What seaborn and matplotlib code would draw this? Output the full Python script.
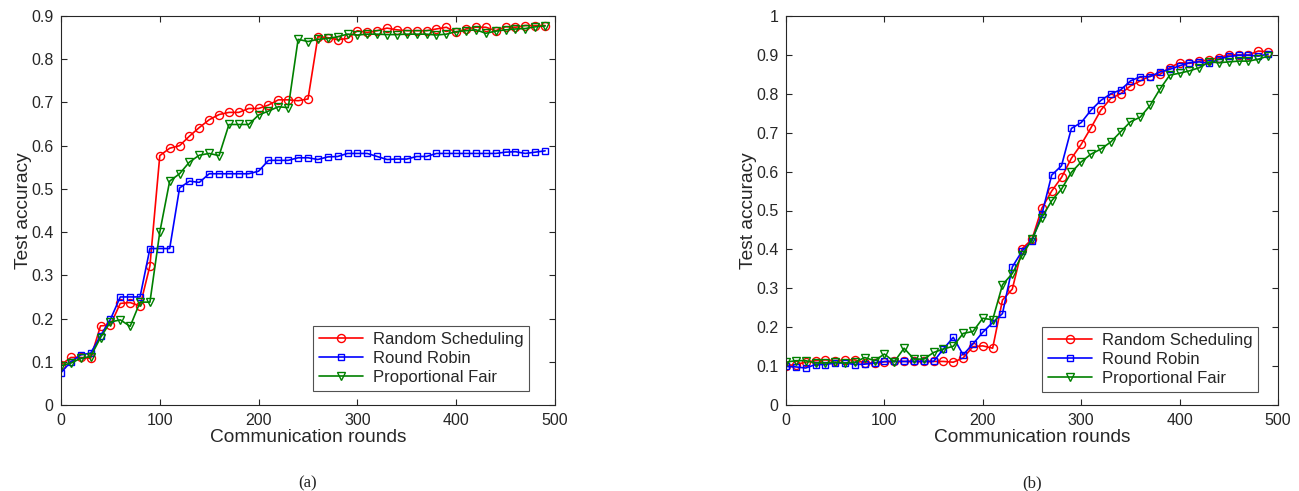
import numpy as np
import pandas as pd
import matplotlib
matplotlib.use("Agg")
import matplotlib.pyplot as plt
import seaborn as sns
from matplotlib.ticker import FuncFormatter

rounds = list(range(0, 500, 10))

# Panel (a)
a_random = [0.093, 0.11, 0.11, 0.108, 0.183, 0.185, 0.235, 0.237, 0.229, 0.322,
            0.577, 0.594, 0.60, 0.622, 0.642, 0.66, 0.672, 0.677, 0.677, 0.686,
            0.686, 0.694, 0.706, 0.706, 0.704, 0.708, 0.852, 0.85, 0.845, 0.848,
            0.866, 0.862, 0.866, 0.872, 0.868, 0.866, 0.866, 0.866, 0.87, 0.874,
            0.862, 0.87, 0.874, 0.874, 0.866, 0.875, 0.874, 0.878, 0.878, 0.878]
a_robin = [0.075, 0.10, 0.116, 0.12, 0.16, 0.198, 0.25, 0.25, 0.25, 0.362,
           0.362, 0.362, 0.502, 0.518, 0.515, 0.535, 0.535, 0.535, 0.535, 0.535,
           0.541, 0.566, 0.566, 0.566, 0.572, 0.572, 0.568, 0.574, 0.575, 0.582,
           0.582, 0.582, 0.575, 0.568, 0.569, 0.569, 0.575, 0.575, 0.582, 0.582,
           0.582, 0.582, 0.582, 0.582, 0.582, 0.585, 0.586, 0.582, 0.585, 0.588]
a_fair = [0.091, 0.097, 0.108, 0.112, 0.156, 0.192, 0.197, 0.182, 0.238, 0.238,
          0.40, 0.518, 0.535, 0.562, 0.578, 0.582, 0.577, 0.649, 0.649, 0.649,
          0.671, 0.68, 0.69, 0.688, 0.846, 0.841, 0.846, 0.848, 0.852, 0.858,
          0.856, 0.858, 0.858, 0.857, 0.857, 0.858, 0.858, 0.858, 0.856, 0.858,
          0.864, 0.866, 0.868, 0.86, 0.865, 0.868, 0.87, 0.871, 0.875, 0.877]

# Panel (b)
b_random = [0.101, 0.104, 0.11, 0.114, 0.116, 0.114, 0.116, 0.116, 0.108, 0.108,
            0.111, 0.112, 0.112, 0.112, 0.112, 0.112, 0.112, 0.11, 0.121, 0.15,
            0.152, 0.146, 0.27, 0.298, 0.402, 0.426, 0.506, 0.55, 0.585, 0.634,
            0.67, 0.713, 0.758, 0.788, 0.80, 0.82, 0.833, 0.846, 0.85, 0.867,
            0.88, 0.878, 0.884, 0.887, 0.893, 0.90, 0.90, 0.90, 0.91, 0.908]
b_robin = [0.099, 0.098, 0.095, 0.104, 0.104, 0.108, 0.108, 0.104, 0.105, 0.108,
           0.112, 0.112, 0.112, 0.112, 0.112, 0.112, 0.144, 0.174, 0.129, 0.157,
           0.187, 0.212, 0.235, 0.355, 0.396, 0.422, 0.49, 0.591, 0.615, 0.711,
           0.726, 0.758, 0.783, 0.80, 0.81, 0.833, 0.844, 0.844, 0.856, 0.863,
           0.872, 0.88, 0.882, 0.878, 0.889, 0.896, 0.899, 0.899, 0.897, 0.902]
b_fair = [0.11, 0.114, 0.114, 0.108, 0.108, 0.11, 0.108, 0.11, 0.122, 0.114,
          0.131, 0.111, 0.146, 0.118, 0.118, 0.135, 0.144, 0.151, 0.184, 0.189,
          0.223, 0.219, 0.309, 0.338, 0.385, 0.426, 0.482, 0.525, 0.555, 0.598,
          0.625, 0.645, 0.658, 0.676, 0.702, 0.728, 0.74, 0.77, 0.812, 0.848,
          0.853, 0.859, 0.867, 0.882, 0.88, 0.882, 0.884, 0.884, 0.889, 0.897]

series_names = ["Random Scheduling", "Round Robin", "Proportional Fair"]
colors = ["#ff0000", "#0000ff", "#008000"]
markers = ["o", "s", "v"]

sns.set_theme(style="white")
plt.rcParams['font.family'] = ['Liberation Sans', 'DejaVu Sans']

fig = plt.figure(figsize=(12.99, 4.91), dpi=100)
ax1 = fig.add_axes([61/1299, 1-405/491, (555-61)/1299, (405-16)/491])
ax2 = fig.add_axes([786/1299, 1-405/491, (1278-786)/1299, (405-16)/491])

def draw(ax, data, ymax, yticks, legend_anchor):
    for name, vals, c, m in zip(series_names, data, colors, markers):
        ms = 5.8 if m != "s" else 4.8
        sns.lineplot(x=rounds, y=vals, ax=ax, color=c, marker=m, markersize=ms,
                     markerfacecolor="none", markeredgecolor=c, markeredgewidth=1.0,
                     linewidth=1.2, label=name)
    ax.set_xlim(0, 500)
    ax.set_ylim(0, ymax)
    ax.set_xticks([0, 100, 200, 300, 400, 500])
    ax.set_yticks(yticks)
    ax.yaxis.set_major_formatter(FuncFormatter(lambda v, p: "%g" % round(v, 2)))
    ax.tick_params(direction="in", length=4, width=0.8, top=True, right=True,
                   labelsize=11.5, colors="#262626", pad=5.5)
    ax.tick_params(axis="both", which="both", bottom=True, left=True)
    for sp in ax.spines.values():
        sp.set_color("#262626")
        sp.set_linewidth(0.8)
    ax.set_xlabel("Communication rounds", fontsize=13.8, color="#262626", labelpad=1)
    ax.set_ylabel("Test accuracy", fontsize=13.8, color="#262626", labelpad=-1)
    leg = ax.legend(loc="lower right", bbox_to_anchor=legend_anchor, fontsize=12,
                    frameon=True, fancybox=False, edgecolor="#262626",
                    handlelength=2.6, borderpad=0.35, labelspacing=0.25,
                    handletextpad=0.6, borderaxespad=0)
    leg.get_frame().set_linewidth(0.8)

draw(ax1, [a_random, a_robin, a_fair], 0.9, [i/10 for i in range(10)],
     ((529-61)/494, (405-391)/389))
draw(ax2, [b_random, b_robin, b_fair], 1.0, [i/10 for i in range(11)],
     ((1258-786)/492, (405-392)/389))

fig.text((61+555)/2/1299, 1-483/491, "(a)", ha="center", va="center",
         fontsize=12, family=["Liberation Serif"], color="#222222")
fig.text((786+1278)/2/1299, 1-483/491, "(b)", ha="center", va="center",
         fontsize=12, family=["Liberation Serif"], color="#222222")

fig.savefig("out.png", dpi=100)
